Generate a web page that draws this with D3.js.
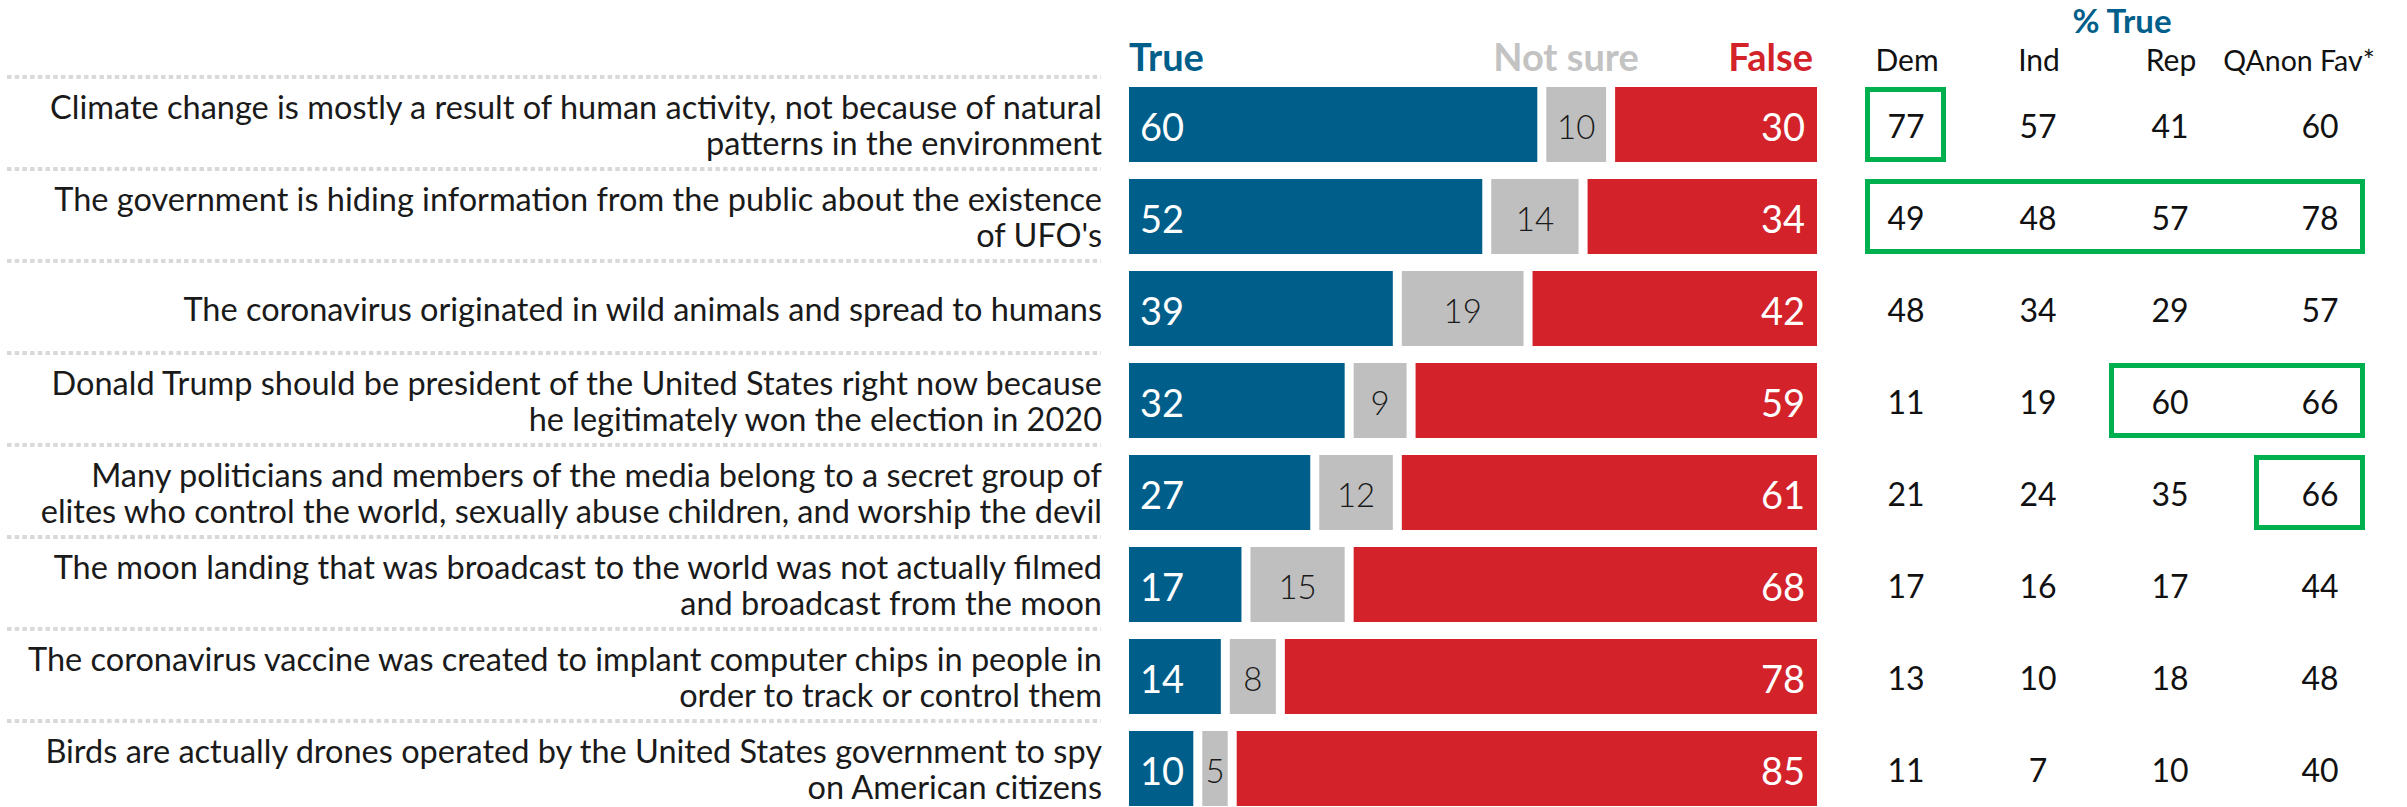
<!DOCTYPE html>
<html>
<head>
<meta charset="utf-8">
<script src="https://cdn.jsdelivr.net/npm/d3@7"></script>
<style>
  html, body { margin: 0; padding: 0; background: #fff; }
  svg { display: block; }
  text { font-family: Lato, "Open Sans", sans-serif; }
</style>
</head>
<body>
<svg id="chart" width="2407" height="807"></svg>
<script>
// ---- data ----
const statements = [
  ["Climate change is mostly a result of human activity, not because of natural", "patterns in the environment"],
  ["The government is hiding information from the public about the existence", "of UFO's"],
  ["The coronavirus originated in wild animals and spread to humans"],
  ["Donald Trump should be president of the United States right now because", "he legitimately won the election in 2020"],
  ["Many politicians and members of the media belong to a secret group of", "elites who control the world, sexually abuse children, and worship the devil"],
  ["The moon landing that was broadcast to the world was not actually filmed", "and broadcast from the moon"],
  ["The coronavirus vaccine was created to implant computer chips in people in", "order to track or control them"],
  ["Birds are actually drones operated by the United States government to spy", "on American citizens"]
];
const trueVals    = [60, 52, 39, 32, 27, 17, 14, 10];
const notSureVals = [10, 14, 19,  9, 12, 15,  8,  5];
const falseVals   = [30, 34, 42, 59, 61, 68, 78, 85];

const groups   = ["Dem", "Ind", "Rep", "QAnon Fav*"];
const demVals   = [77, 49, 48, 11, 21, 17, 13, 11];
const indVals   = [57, 48, 34, 19, 24, 16, 10,  7];
const repVals   = [41, 57, 29, 60, 35, 17, 18, 10];
const qanonVals = [60, 78, 57, 66, 66, 44, 48, 40];
const groupVals = [demVals, indVals, repVals, qanonVals];

const segmentNames = ["True", "Not sure", "False"];
const highlights = [
  { row: 0, from: "Dem", to: "Dem" },
  { row: 1, from: "Dem", to: "QAnon Fav*" },
  { row: 3, from: "Rep", to: "QAnon Fav*" },
  { row: 4, from: "QAnon Fav*", to: "QAnon Fav*" }
];

// ---- styles ----
const BLUE = "#005e8a", GRAY = "#bfbfbf", RED = "#d3222a", GREEN = "#00b04f";
const segColor = d3.scaleOrdinal().domain(segmentNames).range([BLUE, GRAY, RED]);
const headColor = d3.scaleOrdinal().domain(segmentNames).range([BLUE, "#c3c3c3", RED]);

const svg = d3.select("#chart");

const n = statements.length;
const y = d3.scaleBand().domain(d3.range(n)).range([87, 806]).paddingInner(17 / 92).paddingOuter(0);
const x = d3.scaleLinear().domain([0, 100]).range([1129, 1817]);
const GAP = 4.5;

// columns of table
const colCenter = d3.scaleOrdinal().domain(groups).range([1906, 2038, 2170, 2320]);
const headCenter = d3.scaleOrdinal().domain(groups).range([1907, 2039, 2171, 2299]);
const boxLeft = d3.scaleOrdinal().domain(groups).range([1865, 1995, 2109, 2254]);
const boxRight = d3.scaleOrdinal().domain(groups).range([1946, 2080, 2215, 2365]);

// separators
svg.append("g").selectAll("line").data(d3.range(n)).join("line")
  .attr("x1", 7).attr("x2", 1101)
  .attr("y1", i => y(i) - 10).attr("y2", i => y(i) - 10)
  .attr("stroke", "#d9d9d9").attr("stroke-width", 4)
  .attr("stroke-dasharray", "4.5,3.2");

// row labels
const labG = svg.append("g");
statements.forEach((lines, i) => {
  const cy = y(i) + y.bandwidth() / 2;
  const lh = 35.5;
  const t = labG.append("text")
    .attr("text-anchor", "end")
    .attr("font-size", 32.5)
    .attr("fill", "#1a1a1a");
  lines.forEach((ln, k) => {
    t.append("tspan")
      .attr("x", 1102)
      .attr("y", cy + (k - (lines.length - 1) / 2) * lh)
      .attr("dominant-baseline", "central")
      .text(ln);
  });
});

// bars
const rows = d3.range(n).map(i => {
  const vals = [trueVals[i], notSureVals[i], falseVals[i]];
  let cum = 0;
  return vals.map((v, k) => {
    const s = cum; cum += v;
    return { row: i, key: segmentNames[k], v, s, e: cum, k };
  });
}).flat();

const barG = svg.append("g");
barG.selectAll("rect").data(rows).join("rect")
  .attr("x", d => x(d.s) + (d.k > 0 ? GAP : 0))
  .attr("width", d => x(d.e) - x(d.s) - (d.k > 0 ? GAP : 0) - (d.k < 2 ? GAP : 0))
  .attr("y", d => y(d.row))
  .attr("height", y.bandwidth())
  .attr("fill", d => segColor(d.key));

barG.selectAll("text").data(rows).join("text")
  .attr("x", d => d.k === 0 ? x(d.s) + 11 : d.k === 2 ? x(d.e) - 12 : (x(d.s) + x(d.e)) / 2)
  .attr("y", d => y(d.row) + y.bandwidth() / 2 + 1)
  .attr("dominant-baseline", "central")
  .attr("text-anchor", d => d.k === 0 ? "start" : d.k === 2 ? "end" : "middle")
  .attr("font-size", d => d.k === 1 ? 33 : 38)
  .attr("font-weight", d => d.k === 1 ? 300 : 400)
  .attr("fill", d => d.k === 1 ? "#1a1a1a" : "#fff")
  .text(d => d.v);

// bar headers
const headX = { "True": [1129, "start"], "Not sure": [1566, "middle"], "False": [1813, "end"] };
svg.append("g").selectAll("text").data(segmentNames).join("text")
  .attr("x", d => headX[d][0])
  .attr("text-anchor", d => headX[d][1])
  .attr("y", 71)
  .attr("font-size", 38)
  .attr("font-weight", 700)
  .attr("fill", d => headColor(d))
  .text(d => d);

// table header
svg.append("text")
  .attr("x", 2122).attr("y", 33)
  .attr("text-anchor", "middle")
  .attr("font-size", 33)
  .attr("font-weight", 700)
  .attr("fill", BLUE)
  .text("% True");

svg.append("g").selectAll("text").data(groups).join("text")
  .attr("x", d => headCenter(d))
  .attr("y", 71)
  .attr("text-anchor", "middle")
  .attr("font-size", d => d === "QAnon Fav*" ? 28.5 : 30)
  .attr("fill", "#111")
  .text(d => d);

// table values
const cells = [];
groups.forEach((g, c) => groupVals[c].forEach((v, i) => cells.push({ g, v, row: i })));
svg.append("g").selectAll("text").data(cells).join("text")
  .attr("x", d => colCenter(d.g))
  .attr("y", d => y(d.row) + y.bandwidth() / 2 + 1)
  .attr("dominant-baseline", "central")
  .attr("text-anchor", "middle")
  .attr("font-size", 32)
  .attr("fill", "#111")
  .text(d => d.v);

// highlight boxes
svg.append("g").selectAll("rect").data(highlights).join("rect")
  .attr("x", d => boxLeft(d.from) + 2.5)
  .attr("width", d => boxRight(d.to) - boxLeft(d.from) - 5)
  .attr("y", d => y(d.row) + 2.5)
  .attr("height", y.bandwidth() - 5)
  .attr("fill", "none")
  .attr("stroke", GREEN)
  .attr("stroke-width", 5);
</script>
</body>
</html>
